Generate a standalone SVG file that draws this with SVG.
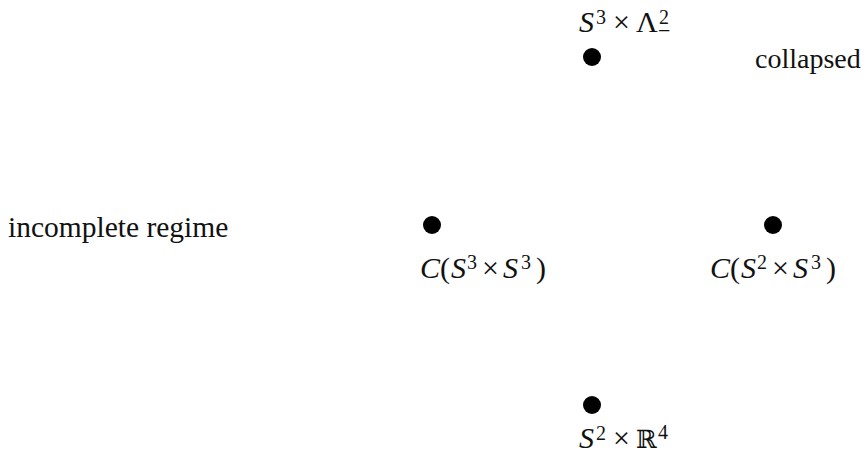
<svg xmlns="http://www.w3.org/2000/svg" width="867" height="455" viewBox="0 0 867 455">
<style>
  text { font-family: "Liberation Serif", "DejaVu Serif", serif; fill: #111; font-size: 29.5px; }
  .m { font-size: 30px; }
  .it { font-style: italic; }
  .sup { font-size: 20px; }
  .sub { font-size: 22px; }
  .bb { font-family: "DejaVu Serif", serif; font-size: 25px; }
  .lbl2 { font-size: 28px; }
  .dot { fill: #000; }
</style>
<rect width="867" height="455" fill="#ffffff"/>
<g id="connectors"></g>
<g id="node-top">
  <circle class="dot" cx="592" cy="57" r="9"/>
  <text class="m"><tspan class="it" x="579" y="32">S</tspan><tspan class="sup" x="596" y="24">3</tspan><tspan x="613" y="32">×</tspan><tspan x="636" y="32">Λ</tspan><tspan class="sup" x="659" y="24">2</tspan><tspan class="sub" x="658" y="38">−</tspan></text>
</g>
<g id="node-left">
  <circle class="dot" cx="432" cy="225" r="9"/>
  <text class="m"><tspan class="it" x="420" y="278">C</tspan><tspan x="440" y="278">(</tspan><tspan class="it" x="451" y="278">S</tspan><tspan class="sup" x="467" y="269">3</tspan><tspan x="482" y="278">×</tspan><tspan class="it" x="503" y="278">S</tspan><tspan class="sup" x="521" y="269">3</tspan><tspan x="536" y="278">)</tspan></text>
</g>
<g id="node-right">
  <circle class="dot" cx="773" cy="225" r="9"/>
  <text class="m"><tspan class="it" x="710" y="278">C</tspan><tspan x="730" y="278">(</tspan><tspan class="it" x="741" y="278">S</tspan><tspan class="sup" x="757" y="269">2</tspan><tspan x="772" y="278">×</tspan><tspan class="it" x="793" y="278">S</tspan><tspan class="sup" x="811" y="269">3</tspan><tspan x="826" y="278">)</tspan></text>
</g>
<g id="node-bottom">
  <circle class="dot" cx="592" cy="405" r="9"/>
  <text class="m"><tspan class="it" x="579" y="448">S</tspan><tspan class="sup" x="596" y="440">2</tspan><tspan x="613" y="448">×</tspan><tspan class="bb" x="636" y="448">ℝ</tspan><tspan class="sup" x="658" y="439">4</tspan></text>
</g>
<g id="label-incomplete">
  <text x="8" y="237">incomplete regime</text>
</g>
<g id="label-collapsed">
  <text class="lbl2" x="755" y="68">collapsed</text>
</g>
</svg>
